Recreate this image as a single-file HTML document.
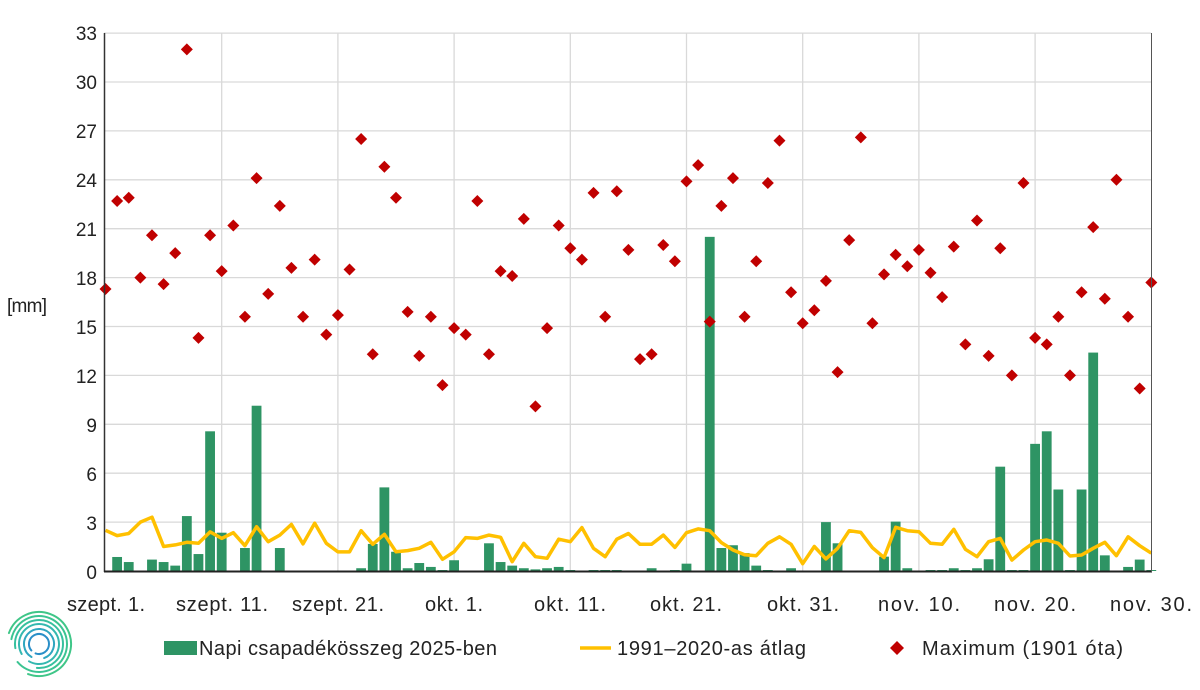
<!DOCTYPE html>
<html><head><meta charset="utf-8"><style>
body{margin:0;background:#fff;width:1200px;height:685px;overflow:hidden}
svg text{font-family:"Liberation Sans",Arial,sans-serif;fill:#222}
</style></head><body>
<svg id="c" width="1200" height="685" xmlns="http://www.w3.org/2000/svg">
<g id="grid"></g>
<g id="bars"></g>
<polyline id="avg" fill="none" stroke="#ffc000" stroke-width="3.5" stroke-linejoin="round"/>
<g id="dia"></g>
<line x1="104.5" y1="33" x2="104.5" y2="572" stroke="#333" stroke-width="1.5"/>
<line x1="104" y1="571.5" x2="1152" y2="571.5" stroke="#222" stroke-width="2"/>
<line x1="1151.5" y1="33" x2="1151.5" y2="572" stroke="#555" stroke-width="1"/>
<g font-size="19" text-anchor="end">
<text x="97" y="40">33</text><text x="97" y="89">30</text><text x="97" y="138">27</text><text x="97" y="187">24</text><text x="97" y="236">21</text><text x="97" y="285">18</text><text x="97" y="334">15</text><text x="97" y="383">12</text><text x="97" y="432">9</text><text x="97" y="481">6</text><text x="97" y="530">3</text><text x="97" y="579">0</text>
</g>
<text x="7" y="312" font-size="19" textLength="40">[mm]</text>
<g font-size="20" text-anchor="middle">
<text x="106" y="611" textLength="78">szept. 1.</text><text x="222" y="611" textLength="92">szept. 11.</text><text x="338" y="611" textLength="92">szept. 21.</text><text x="454" y="611" textLength="58">okt. 1.</text><text x="570" y="611" textLength="72">okt. 11.</text><text x="686" y="611" textLength="72">okt. 21.</text><text x="803" y="611" textLength="72">okt. 31.</text><text x="919" y="611" textLength="82">nov. 10.</text><text x="1035" y="611" textLength="82">nov. 20.</text><text x="1151" y="611" textLength="82">nov. 30.</text>
</g>
<rect x="164" y="641" width="33" height="14" fill="#2e9464"/>
<text x="199" y="655" font-size="20" textLength="298">Napi csapadékösszeg 2025-ben</text>
<line x1="580" y1="648" x2="611" y2="648" stroke="#ffc000" stroke-width="3.5"/>
<text x="617" y="655" font-size="20" textLength="189">1991–2020-as átlag</text>
<path d="M897 641 L904 648 L897 655 L890 648Z" fill="#c00000"/>
<text x="922" y="655" font-size="20" textLength="201">Maximum (1901 óta)</text>
<g fill="none" stroke-width="2" stroke-linecap="round" id="logo"></g>
</svg>
<script>
var NS="http://www.w3.org/2000/svg";
function el(t,a,p){var e=document.createElementNS(NS,t);for(var k in a)e.setAttribute(k,a[k]);document.getElementById(p).appendChild(e);return e;}
var X=function(i){return 105.5+11.62*i;},Y=function(v){return 571-v*16.3;};
for(var v=3;v<=33;v+=3)el('line',{x1:104,x2:1151,y1:Y(v),y2:Y(v),stroke:'#d9d9d9','stroke-width':1.3},'grid');
for(var i=10;i<90;i+=10)el('line',{x1:X(i),x2:X(i),y1:33,y2:571,stroke:'#d9d9d9','stroke-width':1.3},'grid');
var bars={1:.86,2:.55,4:.7,5:.55,6:.33,7:3.37,8:1.04,9:8.57,10:2.35,12:1.41,13:10.14,15:1.41,22:.17,23:1.66,24:5.13,25:1.18,26:.17,27:.49,28:.25,29:.06,30:.66,33:1.7,34:.55,35:.33,36:.17,37:.1,38:.17,39:.25,40:.06,42:.06,43:.06,44:.06,47:.17,49:.06,50:.45,52:20.5,53:1.41,54:1.58,55:1.1,56:.33,57:.06,59:.17,62:3.0,63:1.7,67:.88,68:3.03,69:.17,71:.06,72:.06,73:.17,74:.06,75:.17,76:.72,77:6.4,78:.06,79:.06,80:7.8,81:8.57,82:5.0,83:.06,84:5.0,85:13.4,86:.96,88:.25,89:.7,90:.06};
for(var k in bars){var h=bars[k]*16.3;el('rect',{x:X(+k)-4.9,y:571-h,width:9.8,height:h,fill:'#2e9464'},'bars');}
var avg=[2.5,2.17,2.3,3.0,3.3,1.5,1.6,1.76,1.7,2.4,2.0,2.35,1.55,2.72,1.8,2.2,2.86,1.66,2.93,1.7,1.17,1.17,2.47,1.64,2.25,1.18,1.25,1.39,1.76,.72,1.18,2.05,2.0,2.2,2.07,.57,1.7,.88,.78,1.95,1.8,2.66,1.39,.88,1.95,2.3,1.64,1.64,2.2,1.45,2.35,2.58,2.47,1.74,1.29,1.0,.94,1.7,2.1,1.64,.45,1.5,.74,1.39,2.47,2.37,1.43,.82,2.68,2.47,2.41,1.7,1.64,2.56,1.33,.88,1.8,2.0,.67,1.29,1.8,1.9,1.7,.92,.98,1.39,1.76,.94,2.1,1.55,1.09];
document.getElementById('avg').setAttribute('points',avg.map(function(v,i){return X(i).toFixed(1)+','+Y(v).toFixed(1)}).join(' '));
var mx=[17.3,22.7,22.9,18,20.6,17.6,19.5,32,14.3,20.6,18.4,21.2,15.6,24.1,17,22.4,18.6,15.6,19.1,14.5,15.7,18.5,26.5,13.3,24.8,22.9,15.9,13.2,15.6,11.4,14.9,14.5,22.7,13.3,18.4,18.1,21.6,10.1,14.9,21.2,19.8,19.1,23.2,15.6,23.3,19.7,13,13.3,20,19,23.9,24.9,15.3,22.4,24.1,15.6,19,23.8,26.4,17.1,15.2,16,17.8,12.2,20.3,26.6,15.2,18.2,19.4,18.7,19.7,18.3,16.8,19.9,13.9,21.5,13.2,19.8,12,23.8,14.3,13.9,15.6,12,17.1,21.1,16.7,24,15.6,11.2,17.7];
mx.forEach(function(v,i){var x=X(i),y=Y(v);el('path',{d:'M'+x+' '+(y-6)+'L'+(x+6)+' '+y+'L'+x+' '+(y+6)+'L'+(x-6)+' '+y+'Z',fill:'#c00000'},'dia');});
var cx=39,cy=644,cols=['#2a8fc8','#2fa6c0','#34b8b0','#36c09e','#3bc492','#3fc688'];
var rs=[[10,140,470],[15,120,430],[20,150,480],[24,170,455],[28,190,500],[32,200,470]];
rs.forEach(function(r,j){var R=r[0],a1=r[1]*Math.PI/180,a2=r[2]*Math.PI/180;
var x1=cx+R*Math.cos(a1),y1=cy+R*Math.sin(a1),x2=cx+R*Math.cos(a2),y2=cy+R*Math.sin(a2);
var large=(r[2]-r[1])>180?1:0;
el('path',{d:'M'+x1+' '+y1+'A'+R+' '+R+' 0 '+large+' 1 '+x2+' '+y2,stroke:cols[j]},'logo');});
</script>
</body></html>
